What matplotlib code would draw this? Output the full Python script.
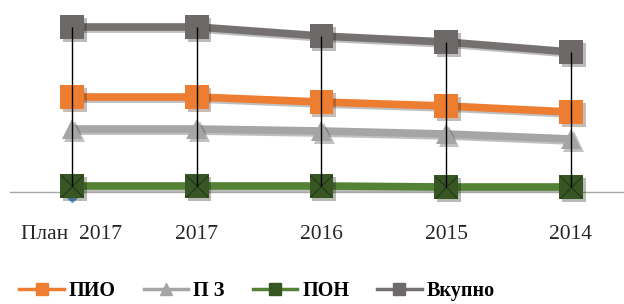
import matplotlib
matplotlib.use("Agg")
import matplotlib.pyplot as plt
import matplotlib.patheffects as pe
from matplotlib.lines import Line2D
import numpy as np

# data
years = ["План  2017", "2017", "2016", "2015", "2014"]
pio = [95, 95, 90, 86, 80]
pz = [63, 63, 61, 58, 53]
pon = [6, 6, 6, 5, 5]
vkupno = [165, 165, 156, 150, 140]
plan = [0, np.nan, np.nan, np.nan, np.nan]

names = ["ПИО", "П З", "ПОН", "Вкупно"]
line_colors = ["#ED7D31", "#A5A5A5", "#548235", "#767171"]
marker_colors = ["#ED7D31", "#A5A5A5", "#375623", "#6E6969"]
markers = ["s", "^", "s", "s"]

plt.rcParams["font.family"] = ["Liberation Serif", "DejaVu Serif"]

fig = plt.figure(figsize=(6.24, 3.04), dpi=100)
ax = fig.add_axes([10 / 624, 112 / 304, 614 / 624, 182 / 304])

x = np.arange(len(years))
line_fx = [pe.SimpleLineShadow(offset=(1.5, -1.5), alpha=0.25), pe.Normal()]
mark_fx = [pe.SimplePatchShadow(offset=(2, -2), alpha=0.3), pe.Normal()]

# hidden plan point
ax.plot(x, plan, "D", color="#5B9BD5", markersize=10, zorder=2, clip_on=False)

series = [pio, pz, pon, vkupno]
sizes = [17, 15, 17, 17]
for vals, lc, mc, m, ms in zip(series, line_colors, marker_colors, markers, sizes):
    ax.plot(x, vals, "-", color=lc, lw=5.5, zorder=3, path_effects=line_fx,
            solid_capstyle="butt")
    ax.plot(x, vals, m, color=mc, markersize=ms, markeredgewidth=0, zorder=4,
            clip_on=False, path_effects=mark_fx)

# X on the green markers
ax.plot(x, pon, "x", color="#22361a", markersize=16, markeredgewidth=0.8,
        zorder=4.5, clip_on=False)

# high-low lines
ax.vlines(x, pon, vkupno, color="black", lw=1, zorder=6)

ax.set_xlim(-0.497, 4.425)
ax.set_ylim(0, 182)
ax.set_xticks(x)
ax.set_xticklabels(years, fontsize=15.5, color="#262626")
ax.tick_params(axis="x", length=0, pad=24)
ax.set_yticks([])
for s in ["top", "left", "right"]:
    ax.spines[s].set_visible(False)
ax.spines["bottom"].set_color("#A6A6A6")
ax.spines["bottom"].set_linewidth(1)

handles = []
for lc, mc, m, n in zip(line_colors, marker_colors, markers, names):
    handles.append(Line2D([0], [0], color=lc, lw=2.5, marker=m, markersize=8,
                          markerfacecolor=mc, markeredgecolor=mc, label=n))
fig.legend(handles=handles, loc="lower center", bbox_to_anchor=(0.412, 0.0),
           ncol=4, frameon=False, handlelength=2.2, handletextpad=0.25,
           columnspacing=1.4, borderaxespad=0, borderpad=0.15,
           prop={"size": 14.5, "weight": "bold"})

fig.savefig("out.png", dpi=100)
